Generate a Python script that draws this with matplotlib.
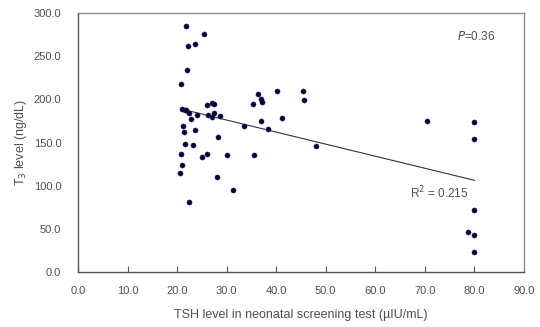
import matplotlib
matplotlib.use("Agg")
import matplotlib.pyplot as plt

plt.rcParams["font.family"] = ["Liberation Sans", "DejaVu Sans"]

tsh = [21.7, 25.4, 22.3, 23.7, 21.9, 20.8, 21.0, 21.5, 21.8, 22.4, 22.8, 24.1,
       21.1, 21.3, 23.6, 21.5, 23.3, 20.8, 21.0, 20.6, 22.5, 26.0, 27.0, 27.4,
       26.3, 27.0, 27.4, 28.7, 28.2, 26.0, 25.0, 30.1, 28.1, 31.3, 33.4, 35.3,
       36.3, 37.0, 37.1, 37.0, 35.5, 38.3, 40.1, 41.1, 45.4, 45.7, 48.0,
       70.5, 80.0, 80.0, 80.0, 78.6, 80.0, 80.0]
t3 = [285.3, 275.7, 262.1, 263.7, 234.4, 217.4, 188.8, 188.0, 187.3, 184.2, 176.9, 181.9,
      169.5, 162.5, 164.5, 148.6, 146.7, 136.7, 123.9, 114.7, 80.7, 193.8, 196.1, 194.6,
      182.2, 179.9, 183.8, 180.3, 156.4, 136.7, 132.8, 135.5, 110.4, 95.0, 169.5, 194.6,
      206.2, 200.8, 196.6, 175.3, 135.5, 166.0, 209.7, 178.8, 210.0, 198.9, 145.6,
      175.3, 173.4, 153.7, 71.8, 46.0, 42.9, 23.2]
trend_x = [21.2, 80.0]
trend_y = [188.3, 106.2]
x_ticks = [0, 10, 20, 30, 40, 50, 60, 70, 80, 90]
y_ticks = [0, 50, 100, 150, 200, 250, 300]

fig = plt.figure(figsize=(5.4, 3.27), dpi=100)
ax = fig.add_axes([0.1444, 0.1682, 0.8260, 0.7920])

ax.plot(trend_x, trend_y, color="#333333", lw=0.8, zorder=2)
ax.scatter(tsh, t3, s=14, color="#000033", edgecolors="#2a2a6a", linewidths=0.3, zorder=3)

ax.set_xlim(0, 90)
ax.set_ylim(0, 300)
ax.set_xticks(x_ticks)
ax.set_xticklabels([f"{v:.1f}" for v in x_ticks])
ax.set_yticks(y_ticks)
ax.set_yticklabels([f"{v:.1f}" for v in y_ticks])
ax.tick_params(axis="x", direction="in", length=4, width=0.8, color="#555555",
               labelsize=8, labelcolor="#505050", pad=10)
ax.tick_params(axis="y", length=0, labelsize=8, labelcolor="#505050", pad=12)

for side in ["left", "bottom"]:
    ax.spines[side].set_color("#555555")
    ax.spines[side].set_linewidth(1.0)
for side in ["top", "right"]:
    ax.spines[side].set_color("#8a8a8a")
    ax.spines[side].set_linewidth(1.0)

ax.set_xlabel("TSH level in neonatal screening test (µIU/mL)", fontsize=9,
              color="#505050")
ax.set_ylabel("T$_3$ level (ng/dL)", fontsize=9, color="#505050")
ax.xaxis.set_label_coords(0.5, -0.143)
ax.yaxis.set_label_coords(-0.11, 0.5)

ax.text(80.3, 272.6, "$\\it{P}$=0.36", fontsize=8.5, color="#505050", ha="center", va="center")
ax.text(67.0, 91.5, "R$^2$ = 0.215", fontsize=8.5, color="#505050", ha="left", va="center")

fig.savefig("out.png", dpi=100)
